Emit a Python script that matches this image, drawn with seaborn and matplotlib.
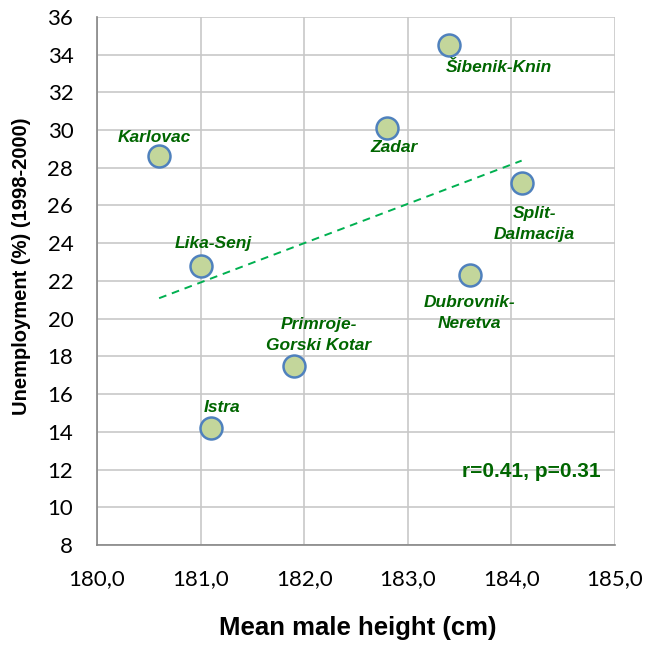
import numpy as np
import matplotlib
matplotlib.use('Agg')
import matplotlib.pyplot as plt
import pandas as pd
import seaborn as sns
from matplotlib.ticker import FuncFormatter, MultipleLocator

# ------------------
# データ
# ------------------
regions = ['Karlovac', 'Zadar', 'Šibenik-Knin', 'Split-\nDalmacija', 'Lika-Senj',
           'Dubrovnik-\nNeretva', 'Primroje-\nGorski Kotar', 'Istra']
height = [180.6, 182.8, 183.4, 184.1, 181.0, 183.6, 181.9, 181.1]
unemployment = [28.6, 30.1, 34.5, 27.2, 22.8, 22.3, 17.5, 14.2]
# ラベルのずらし量 (px)
label_offset = [(-5, 19), (7, -19), (50, -22), (13, -41), (13, 22), (0, -38), (25, 31), (11, 21)]

df = pd.DataFrame({'height': height, 'unemployment': unemployment, 'region': regions})

# ------------------
# 描画
# ------------------
sns.set_style('white')
plt.rcParams['text.color'] = 'black'
plt.rcParams['axes.labelcolor'] = 'black'
plt.rcParams['xtick.color'] = 'black'
plt.rcParams['ytick.color'] = 'black'
NARROW = ['Liberation Sans Narrow', 'Liberation Sans', 'DejaVu Sans']
TICKFONT = ['Lato', 'DejaVu Sans']

fig = plt.figure(figsize=(6.64, 6.45), dpi=100)
ax = fig.add_axes([0.146, 0.155, 0.78, 0.819])

# 回帰直線（破線）
sns.regplot(data=df, x='height', y='unemployment', scatter=False, ci=None, ax=ax,
            line_kws=dict(color='#00b050', lw=1.4, ls=(0, (4, 3))))
# 散布図
sns.scatterplot(data=df, x='height', y='unemployment', ax=ax, s=250,
                color='#c3d69b', edgecolor='#4f81bd', linewidth=1.8, zorder=3)

for name, x, y, off in zip(regions, height, unemployment, label_offset):
    ax.annotate(name, (x, y), xytext=off, textcoords='offset pixels',
                ha='center', va='center', color='#006600', fontsize=12.5,
                fontweight='bold', fontstyle='italic', family=NARROW,
                linespacing=1.5)

ax.text(0.838, 0.14, 'r=0.41, p=0.31', transform=ax.transAxes, ha='center', va='center',
        color='#006600', fontsize=15, fontweight='bold', family=NARROW)

ax.set_xlim(180, 185)
ax.set_ylim(8, 36)
ax.xaxis.set_major_locator(MultipleLocator(1))
ax.yaxis.set_major_locator(MultipleLocator(2))
ax.xaxis.set_major_formatter(FuncFormatter(lambda v, p: f'{v:.1f}'.replace('.', ',')))
ax.grid(True, color='#c8c8c8', lw=1.2)
ax.set_axisbelow(True)

for s in ['top', 'right']:
    ax.spines[s].set_visible(False)
for s in ['left', 'bottom']:
    ax.spines[s].set_color('#868686')
    ax.spines[s].set_linewidth(1.2)

ax.tick_params(axis='both', which='major', direction='out', length=5, width=1.2,
               color='#868686', labelsize=16, pad=12)
for lab in ax.get_xticklabels() + ax.get_yticklabels():
    lab.set_family(TICKFONT)

ax.set_xlabel('Mean male height (cm)', fontsize=18.5, fontweight='bold', family=NARROW)
ax.set_ylabel('Unemployment (%) (1998-2000)', fontsize=14.5, fontweight='bold', family=NARROW)
ax.xaxis.set_label_coords(0.503, -0.135)
ax.yaxis.set_label_coords(-0.127, 0.527)

fig.savefig('out.png', dpi=100)
